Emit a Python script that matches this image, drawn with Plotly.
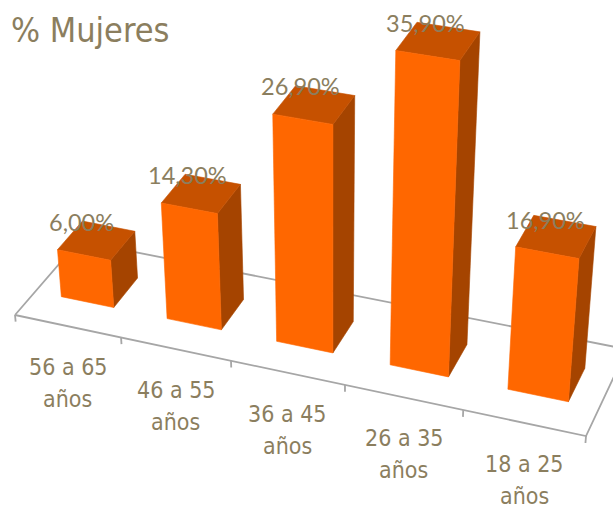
import plotly.graph_objects as go

# ---------------- data ----------------
categories = ["56 a 65<br>años", "46 a 55<br>años", "36 a 45<br>años", "26 a 35<br>años", "18 a 25<br>años"]
values = [6.0, 14.3, 26.9, 35.9, 16.9]          # % Mujeres
title_text = "% Mujeres"

# ---------------- styling ----------------
W, H = 613, 509
TEXT_COLOR = "#8B7E5E"
FRONT = "#FF6700"
TOP = "#C65100"
SIDE = "#A54400"
FLOOR_LINE = "#A6A6A6"
NARROW = "DejaVu Sans Condensed, sans-serif"
LABEL_FONT = "Lato, Open Sans, sans-serif"

BAR_X0, BAR_X1 = 0.25, 0.75      # bar footprint within a category
BAR_Y0, BAR_Y1 = 0.31, 0.70      # bar footprint in depth (floor depth = 1)
TICK_LEN = 0.85                  # tick length in value units (downwards)
CAT_LINE_GAP = 32                # px between the two lines of a category label

# ---------------- perspective camera (category, depth, value) -> page ----------------
CAM_X = (15.0, 103.97, 67.8, -0.785)
CAM_Y = (315.0, 16.59, -62.2, -8.51)
CAM_W = (1.0, -0.01746, 0.0488, -0.002363)


def proj(X, Y, Z):
    w = CAM_W[0] + CAM_W[1] * X + CAM_W[2] * Y + CAM_W[3] * Z
    sx = (CAM_X[0] + CAM_X[1] * X + CAM_X[2] * Y + CAM_X[3] * Z) / w
    sy = (CAM_Y[0] + CAM_Y[1] * X + CAM_Y[2] * Y + CAM_Y[3] * Z) / w
    return sx, sy


def poly(points):
    pts = [proj(*p) for p in points]
    pts.append(pts[0])
    return [p[0] for p in pts], [p[1] for p in pts]


fig = go.Figure()
n = len(values)

# floor outline
floor = [(0, 0, 0), (n, 0, 0), (n, 1, 0), (0, 1, 0), (0, 0, 0)]
fx = [proj(*p)[0] for p in floor]
fy = [proj(*p)[1] for p in floor]
fig.add_trace(go.Scatter(x=fx, y=fy, mode="lines",
                         line=dict(color=FLOOR_LINE, width=1.8),
                         hoverinfo="skip", showlegend=False))
# ticks
for k in range(n + 1):
    a = proj(k, 0, 0)
    b = proj(k, 0, -TICK_LEN)
    fig.add_trace(go.Scatter(x=[a[0], b[0]], y=[a[1], b[1]], mode="lines",
                             line=dict(color=FLOOR_LINE, width=1.8),
                             hoverinfo="skip", showlegend=False))

# bars (left to right: the right ones are closer)
for i, v in enumerate(values):
    x0, x1 = i + BAR_X0, i + BAR_X1
    y0, y1 = BAR_Y0, BAR_Y1
    faces = [
        ([(x1, y0, 0), (x1, y1, 0), (x1, y1, v), (x1, y0, v)], SIDE),
        ([(x0, y0, v), (x1, y0, v), (x1, y1, v), (x0, y1, v)], TOP),
        ([(x0, y0, 0), (x1, y0, 0), (x1, y0, v), (x0, y0, v)], FRONT),
    ]
    for pts, col in faces:
        px, py = poly(pts)
        fig.add_trace(go.Scatter(x=px, y=py, mode="lines", fill="toself",
                                 fillcolor=col, line=dict(color=col, width=0.6),
                                 hoverinfo="skip", showlegend=False))
    # data label
    lx, ly = proj(i + 0.5, BAR_Y0, v)
    fig.add_annotation(x=lx, y=ly, xref="x", yref="y", showarrow=False,
                       text=f"{v:.2f}%".replace(".", ","), yshift=33, xshift=-2,
                       xanchor="center", yanchor="middle",
                       font=dict(family=LABEL_FONT, size=23.5, color=TEXT_COLOR))

# category labels (two lines each)
for i, c in enumerate(categories):
    cx, cy = proj(i + 0.5, 0, 0)
    for j, line in enumerate(c.split("<br>")):
        fig.add_annotation(x=cx, y=cy, xref="x", yref="y", showarrow=False,
                           text=line, yshift=-26 - j * CAT_LINE_GAP,
                           xanchor="center", yanchor="top",
                           font=dict(family=NARROW, size=23, color=TEXT_COLOR))

# title
fig.add_annotation(x=9, y=30, xref="x", yref="y", showarrow=False,
                   text=title_text, xanchor="left", yanchor="middle",
                   font=dict(family=NARROW, size=34, color=TEXT_COLOR))

fig.update_layout(
    width=W, height=H,
    margin=dict(l=0, r=0, t=0, b=0),
    paper_bgcolor="white", plot_bgcolor="white",
    xaxis=dict(range=[0, W], visible=False, fixedrange=True),
    yaxis=dict(range=[H, 0], visible=False, fixedrange=True),
    showlegend=False,
)

fig.write_html("out.html")
